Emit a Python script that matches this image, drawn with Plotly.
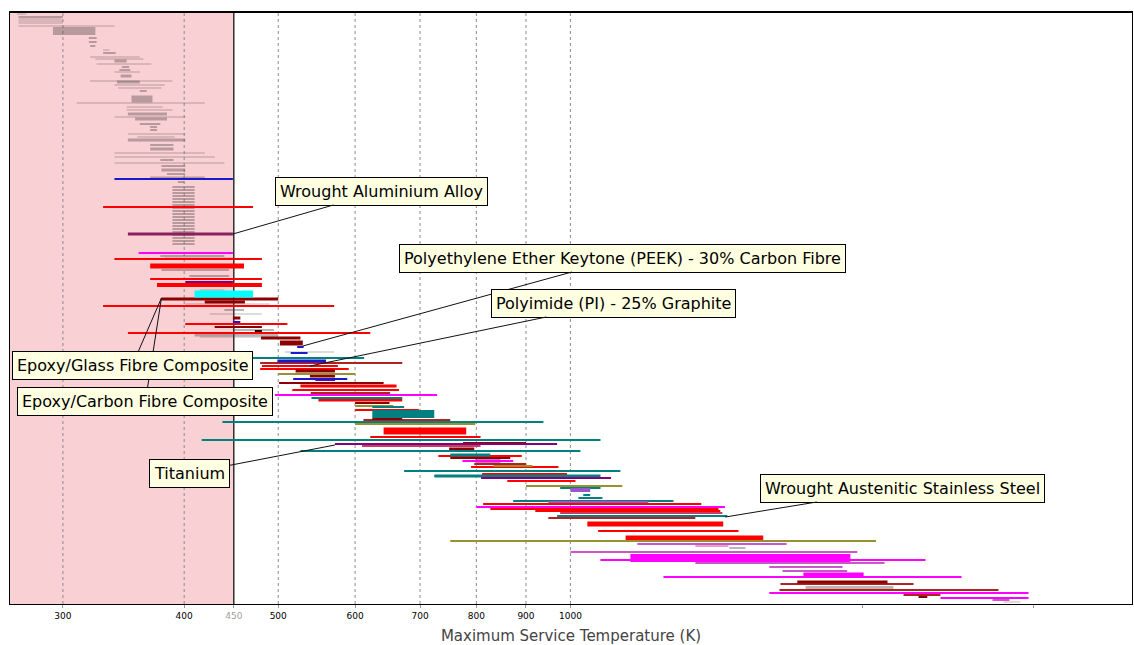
import numpy as np
import pandas as pd
import plotly.graph_objects as go

# Each record: (lowest max-service temperature K, highest K, sort rank, rank spread)
grey = [
    (269, 275, 2, 1), (270, 300, 5, 2), (270, 299, 7, 1), (270, 300, 9, 1), (270, 300, 11, 1),
    (270, 339, 14, 1), (293, 324, 19, 8), (319, 325, 26, 2), (319, 325, 30, 2), (320, 324, 34, 2),
    (330, 335, 38, 1), (330, 340, 41, 2), (320, 360, 45, 1), (324, 363, 47, 1), (339, 349, 49, 3),
    (325, 370, 52, 1), (345, 351, 55, 2), (343, 352, 58, 2), (339, 360, 60, 1), (344, 353, 64, 3),
    (320, 389, 69, 1), (341, 360, 70, 3), (339, 382, 73, 1), (342, 379, 76, 1), (360, 366, 79, 2),
    (353, 371, 87, 7), (310, 420, 91, 1), (349, 380, 95, 1), (349, 389, 98, 1), (350, 384, 102, 3),
    (339, 401, 105, 1), (356, 384, 107, 3), (360, 378, 112, 2), (369, 375, 115, 2), (369, 375, 118, 2),
    (350, 401, 122, 1), (358, 391, 125, 1), (350, 401, 128, 3), (369, 390, 133, 2), (369, 390, 137, 3),
    (339, 420, 141, 1), (339, 430, 145, 1), (378, 390, 148, 2), (339, 440, 151, 1), (379, 401, 154, 2),
    (379, 401, 158, 3), (384, 401, 162, 2), (369, 420, 166, 3), (394, 400, 170, 2),
    (389, 410, 175, 2), (389, 410, 178, 2), (389, 410, 181, 2), (389, 410, 184, 2), (389, 410, 187, 2),
    (389, 410, 190, 2), (389, 410, 193, 2), (389, 410, 196, 2), (389, 410, 199, 2), (389, 410, 202, 2),
    (389, 410, 205, 2), (389, 410, 208, 2), (389, 410, 211, 2), (389, 410, 214, 2), (389, 410, 217, 2),
    (389, 410, 220, 2), (389, 410, 223, 2), (389, 410, 226, 2), (389, 410, 229, 2), (389, 410, 232, 2),
    (378, 440, 244, 2), (382, 449, 246, 1), (379, 445, 258, 2), (405, 445, 264, 2), (415, 440, 278, 1),
    (401, 490, 292, 1), (440, 461, 298, 2), (425, 481, 302, 1), (449, 495, 318, 2), (410, 500, 323, 3),
    (415, 500, 325, 1), (508, 571, 340, 1), (1458, 1515, 536, 2), (1747, 2152, 576, 4),
    (2794, 2909, 590, 1),
]
red = [
    (330, 471, 195, 2), (339, 481, 247, 2), (369, 461, 254, 5), (369, 481, 267, 2), (375, 481, 273, 4),
    (330, 571, 294, 2), (401, 511, 312, 2), (350, 622, 321, 2), (481, 576, 354, 2), (479, 591, 357, 2),
    (527, 662, 374, 3), (517, 666, 378, 2), (550, 671, 388, 3), (600, 698, 398, 2), (642, 781, 419, 7),
    (622, 808, 425, 2), (731, 891, 444, 2), (790, 972, 455, 2), (811, 992, 462, 2), (861, 1012, 469, 2),
    (813, 1364, 492, 2), (827, 1421, 497, 2), (920, 1427, 499, 2), (1041, 1437, 512, 5),
    (1068, 1490, 519, 2), (1140, 1580, 526, 5),
]
brick = [
    (479, 671, 351, 2), (540, 652, 381, 2), (612, 752, 408, 2), (796, 900, 452, 2), (949, 1345, 506, 2),
    (1646, 2257, 572, 2), (1642, 2761, 578, 2), (2204, 2406, 583, 2),
]
darkred = [
    (379, 500, 287, 3), (420, 462, 290, 3), (449, 457, 306, 3), (430, 481, 315, 2), (480, 527, 326, 3),
    (502, 530, 331, 5), (521, 572, 359, 3), (539, 572, 364, 3), (501, 642, 371, 2), (600, 651, 391, 2),
    (625, 671, 407, 2), (750, 796, 437, 3), (752, 867, 446, 2), (775, 900, 431, 2), (1713, 2122, 570, 3),
    (2284, 2332, 585, 2),
]
rose = [(610, 808, 434, 2), (976, 1434, 501, 2)]
pink = [(1345, 1455, 534, 2)]
olive = [
    (500, 600, 362, 2), (600, 657, 394, 2), (600, 798, 412, 2), (833, 914, 454, 2), (900, 1131, 474, 1),
    (752, 2065, 529, 2),
]
teal = [
    (449, 613, 346, 2), (541, 671, 386, 2), (625, 674, 395, 2), (625, 724, 402, 8), (438, 938, 410, 2),
    (417, 1074, 428, 2), (527, 1024, 439, 2), (752, 827, 443, 3), (674, 1126, 459, 2), (724, 1074, 464, 3),
    (976, 1074, 476, 2), (1031, 1048, 483, 2), (1019, 1079, 486, 2), (873, 1277, 489, 2), (969, 1451, 504, 2),
]
purple = [(401, 449, 270, 2), (546, 572, 368, 2), (572, 969, 432, 2), (798, 847, 449, 3), (809, 1101, 466, 2)]
plum = [(350, 449, 222, 3)]
violet = [(1000, 1048, 478, 4), (949, 1203, 490, 2)]
magenta = [
    (359, 449, 241, 1), (496, 729, 383, 2), (774, 873, 449, 2), (800, 1443, 495, 2), (1153, 1943, 546, 8),
    (1074, 2322, 548, 2), (1738, 2005, 563, 5), (1247, 2529, 565, 2), (1603, 2965, 581, 2),
    (2406, 2965, 586, 2),
]
orchid = [
    (1172, 1670, 532, 2), (1000, 1975, 540, 2), (1345, 2107, 551, 2), (1603, 1907, 555, 2),
    (1654, 1928, 559, 2), (2722, 2834, 588, 1),
]
cyan = [(410, 471, 282, 7)]
blue = [(339, 449, 167, 2), (449, 457, 310, 2), (523, 531, 335, 2), (515, 536, 341, 2), (499, 560, 349, 3),
        (518, 589, 367, 1)]
black = [(473, 481, 319, 2)]

# Axis ticks
tick_vals = [300, 400, 450, 500, 600, 700, 800, 900, 1000, 2000, 3000]
tick_text = ["300", "400", "<span style='color:#a0a0a0'>450</span>", "500", "600", "700", "800",
             "900", "1000", "", ""]
grid_vals = [300, 400, 500, 600, 700, 800, 900, 1000]
t_limit = 450          # lower bound of the selection window (K)
t_min, t_max = 264.6, 3790
rank_span = 592

# Callout labels: (text, target T, target rank, dx px, dy px)
callouts = [
    ("Epoxy/Carbon Fibre Composite", 379, 286, -16, 103),
    ("Epoxy/Glass Fibre Composite", 379, 286, -29, 67),
    ("Wrought Aluminium Alloy", 449, 222, 149, -43),
    ("Polyethylene Ether Keytone (PEEK) - 30% Carbon Fibre", 530, 334, 320, -88),
    ("Polyimide (PI) - 25% Graphite", 539, 354, 304, -63),
    ("Titanium", 572, 433, -145, 28),
    ("Wrought Austenitic Stainless Steel", 1444, 505, 177, -29),
]

palette = {
    "grey": "rgba(80,65,65,0.38)", "red": "#ff0000", "brick": "#b22222", "darkred": "#8b0000",
    "rose": "#c83c64", "pink": "#e8a0c8", "olive": "#9a9030", "teal": "#008080", "purple": "#800080",
    "plum": "#8b2060", "violet": "#9955cc", "magenta": "#ff00ff", "orchid": "#cc55cc",
    "cyan": "#00ffff", "blue": "#1a1acc", "black": "#330000",
}
families = {
    "grey": grey, "red": red, "brick": brick, "darkred": darkred, "rose": rose, "pink": pink,
    "olive": olive, "teal": teal, "purple": purple, "plum": plum, "violet": violet,
    "magenta": magenta, "orchid": orchid, "cyan": cyan, "blue": blue, "black": black,
}

fig = go.Figure()
for name, rows in families.items():
    df = pd.DataFrame(rows, columns=["lo", "hi", "rank", "spread"])
    fig.add_trace(go.Bar(
        orientation="h", base=df["lo"], x=df["hi"] - df["lo"], y=df["rank"], width=df["spread"],
        marker=dict(color=palette[name], line=dict(width=0)), name=name, showlegend=False,
        hoverinfo="skip",
    ))

shapes = [dict(type="rect", xref="x", yref="paper", x0=t_min, x1=t_limit, y0=0, y1=1,
               fillcolor="#f9d0d3", line=dict(width=0), layer="below")]
for g in grid_vals:
    shapes.append(dict(type="line", xref="x", yref="paper", x0=g, x1=g, y0=0, y1=1,
                       line=dict(color="#8c8c8c", width=1, dash="3px,3px"), layer="below"))
shapes.append(dict(type="line", xref="x", yref="paper", x0=t_limit, x1=t_limit, y0=0, y1=1,
                   line=dict(color="black", width=1.2), layer="below"))
# heavier top edge of the frame
shapes.append(dict(type="line", xref="paper", yref="paper", x0=0, x1=1, y0=1, y1=1,
                   line=dict(color="black", width=2), layer="above"))

annotations = []
for text, tx, ty, dx, dy in callouts:
    annotations.append(dict(
        x=np.log10(tx), y=ty, xref="x", yref="y", text=text, showarrow=True, arrowhead=0,
        arrowwidth=1, arrowcolor="#111", ax=dx, ay=dy, bgcolor="#ffffe1", bordercolor="black",
        borderwidth=1, borderpad=4, font=dict(family="DejaVu Sans", size=16, color="black"),
    ))

fig.update_layout(
    width=1134, height=645, margin=dict(l=10, r=2, t=12, b=41),
    paper_bgcolor="white", plot_bgcolor="white", barmode="overlay",
    shapes=shapes, annotations=annotations,
    xaxis=dict(type="log", range=[np.log10(t_min), np.log10(t_max)], tickvals=tick_vals,
               ticktext=tick_text, showgrid=False, zeroline=False, showline=True, mirror=True,
               linecolor="black", linewidth=1, ticks="outside", ticklen=3, tickcolor="#999",
               tickfont=dict(family="DejaVu Sans", size=9, color="black"),
               title=dict(text="Maximum Service Temperature (K)", standoff=10,
                          font=dict(family="DejaVu Sans", size=15, color="#444"))),
    yaxis=dict(range=[rank_span, 0], showgrid=False, zeroline=False, showticklabels=False,
               ticks="", showline=True, mirror=True, linecolor="black", linewidth=1),
)

fig.write_html("out.html")
